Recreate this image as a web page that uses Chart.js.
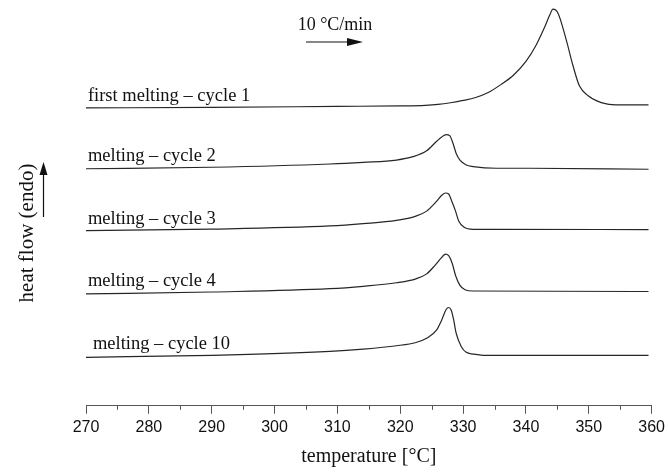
<!DOCTYPE html>
<html>
<head>
<meta charset="utf-8">
<script src="https://cdn.jsdelivr.net/npm/chart.js@4.4.1/dist/chart.umd.min.js"></script>
<style>
  html, body { margin: 0; padding: 0; background: #fff; }
  #wrap { width: 669px; height: 473px; position: relative; }
</style>
</head>
<body>
<div id="wrap"><canvas id="dsc"></canvas></div>
<script>
// DSC heating scans, 10 °C/min; curves stacked with a vertical offset (arbitrary units)
const cycle1Temp = [270, 290, 310, 320, 324, 326, 328, 330, 332, 334, 336, 338, 340, 341.5, 343, 343.8, 344.3, 345.1, 346.4, 347.5, 348.5, 349.9, 351.2, 352.8, 354.9, 359.5];
const cycle1Flow = [30.1, 30.15, 30.25, 30.3, 30.36, 30.45, 30.62, 30.85, 31.15, 31.65, 32.45, 33.4, 34.8, 36.3, 38.3, 39.5, 40.07, 39.67, 37.0, 34.33, 32.33, 31.33, 30.83, 30.5, 30.4, 30.4];

const cycle2Temp = [270, 290, 308.8, 314.1, 319.4, 322.0, 324.2, 325.8, 326.6, 327.3, 327.9, 328.4, 328.9, 329.5, 330.5, 331.6, 335.3, 340.6, 359.5];
const cycle2Flow = [23.95, 24.1, 24.43, 24.6, 24.83, 25.17, 25.77, 26.73, 27.17, 27.4, 27.27, 26.5, 25.5, 24.83, 24.33, 24.17, 24.0, 24.0, 23.9];

const cycle3Temp = [270, 290, 308.8, 314.1, 319.4, 322.5, 324.2, 325.8, 326.6, 327.2, 327.7, 328.2, 328.8, 329.3, 330.1, 331.6, 335.3, 359.5];
const cycle3Flow = [17.7, 17.85, 18.17, 18.4, 18.73, 19.17, 19.67, 20.67, 21.27, 21.5, 21.4, 20.67, 19.67, 18.67, 18.07, 17.83, 17.83, 17.8];

const cycle4Temp = [270, 290, 308.8, 314.1, 319.4, 322.5, 324.2, 325.5, 326.6, 327.2, 327.7, 328.3, 328.8, 329.5, 330.3, 331.6, 359.5];
const cycle4Flow = [11.3, 11.5, 11.83, 12.07, 12.43, 12.83, 13.33, 14.17, 15.0, 15.33, 15.17, 14.33, 13.17, 12.17, 11.73, 11.6, 11.55];

const cycle10Temp = [270, 290, 308.8, 314.1, 319.4, 322.5, 324.2, 325.8, 326.6, 327.3, 327.7, 328.1, 328.5, 328.9, 329.7, 330.5, 331.6, 333.2, 359.5];
const cycle10Flow = [4.9, 5.1, 5.5, 5.73, 6.07, 6.4, 6.83, 7.67, 8.67, 9.73, 9.93, 9.67, 8.67, 7.33, 6.0, 5.4, 5.23, 5.1, 5.1];

const curveNames = ['first melting \u2013 cycle 1', 'melting \u2013 cycle 2', 'melting \u2013 cycle 3', 'melting \u2013 cycle 4', 'melting \u2013 cycle 10'];
const tempTicks = [270, 280, 290, 300, 310, 320, 330, 340, 350, 360];
const minorTicks = [275, 285, 295, 305, 315, 325, 335, 345, 355];

const temps = [cycle1Temp, cycle2Temp, cycle3Temp, cycle4Temp, cycle10Temp];
const flows = [cycle1Flow, cycle2Flow, cycle3Flow, cycle4Flow, cycle10Flow];

// label anchors (temperature, flow) at the start of each trace
const labelAnchors = [
  { x: 270.3, y: 30.8 },
  { x: 270.3, y: 24.7 },
  { x: 270.3, y: 18.4 },
  { x: 270.3, y: 12.1 },
  { x: 271.1, y: 5.7 }
];

const datasets = curveNames.map((name, i) => ({
  label: name,
  data: temps[i].map((t, k) => ({ x: t, y: flows[i][k] })),
  borderColor: '#262626',
  borderWidth: 1.2,
  pointRadius: 0,
  fill: false,
  cubicInterpolationMode: 'monotone'
}));

const serif = '"Liberation Serif", "Times New Roman", serif';

const decorations = {
  id: 'decorations',
  afterDraw(chart) {
    const { ctx, chartArea, scales: { x, y } } = chart;
    ctx.save();
    // minor ticks on the temperature axis
    ctx.strokeStyle = '#555';
    ctx.lineWidth = 1;
    minorTicks.forEach(t => {
      const px = Math.round(x.getPixelForValue(t)) + 0.5;
      ctx.beginPath();
      ctx.moveTo(px, chartArea.bottom);
      ctx.lineTo(px, chartArea.bottom + 4);
      ctx.stroke();
    });

    // trace labels
    ctx.fillStyle = '#111';
    ctx.font = '18.5px ' + serif;
    ctx.textAlign = 'left';
    ctx.textBaseline = 'alphabetic';
    curveNames.forEach((name, i) => {
      ctx.fillText(name, x.getPixelForValue(labelAnchors[i].x), y.getPixelForValue(labelAnchors[i].y));
    });

    // heating rate note with arrow
    ctx.font = '18px ' + serif;
    ctx.textAlign = 'center';
    ctx.fillText('10 \u00B0C/min', 335, 30);
    ctx.strokeStyle = '#111';
    ctx.lineWidth = 1.2;
    ctx.beginPath();
    ctx.moveTo(306, 42);
    ctx.lineTo(350, 42);
    ctx.stroke();
    ctx.beginPath();
    ctx.moveTo(347, 38);
    ctx.lineTo(363, 42);
    ctx.lineTo(347, 46);
    ctx.closePath();
    ctx.fill();

    // vertical axis caption with arrow
    ctx.save();
    ctx.translate(33, 233);
    ctx.rotate(-Math.PI / 2);
    ctx.font = '21px ' + serif;
    ctx.textAlign = 'center';
    ctx.textBaseline = 'alphabetic';
    ctx.fillText('heat flow (endo)', 0, 0);
    ctx.restore();
    ctx.beginPath();
    ctx.moveTo(43.5, 217);
    ctx.lineTo(43.5, 172);
    ctx.stroke();
    ctx.beginPath();
    ctx.moveTo(39.5, 175);
    ctx.lineTo(43.5, 162);
    ctx.lineTo(47.5, 175);
    ctx.closePath();
    ctx.fill();
    ctx.restore();
  }
};

new Chart(document.getElementById('dsc'), {
  type: 'line',
  data: { datasets },
  options: {
    responsive: true,
    maintainAspectRatio: false,
    animation: false,
    layout: { padding: { left: 86, right: 17, top: 0, bottom: 0 } },
    plugins: { legend: { display: false }, tooltip: { enabled: false } },
    scales: {
      x: {
        type: 'linear',
        min: 270,
        max: 360,
        afterBuildTicks: scale => { scale.ticks = tempTicks.map(v => ({ value: v })); },
        ticks: {
          padding: 4,
          color: '#111',
          font: { family: '"Liberation Sans", Arial, sans-serif', size: 16 },
          maxRotation: 0,
          autoSkip: false
        },
        grid: { drawOnChartArea: false, drawTicks: true, tickLength: 8, color: '#555' },
        border: { display: true, color: '#555', width: 1 },
        title: {
          display: true,
          text: 'temperature [\u00B0C]',
          color: '#111',
          font: { family: serif, size: 20 },
          padding: { top: 4, bottom: 4 }
        }
      },
      y: {
        display: false,
        min: 0,
        max: 41
      }
    }
  },
  plugins: [decorations]
});
</script>
</body>
</html>
